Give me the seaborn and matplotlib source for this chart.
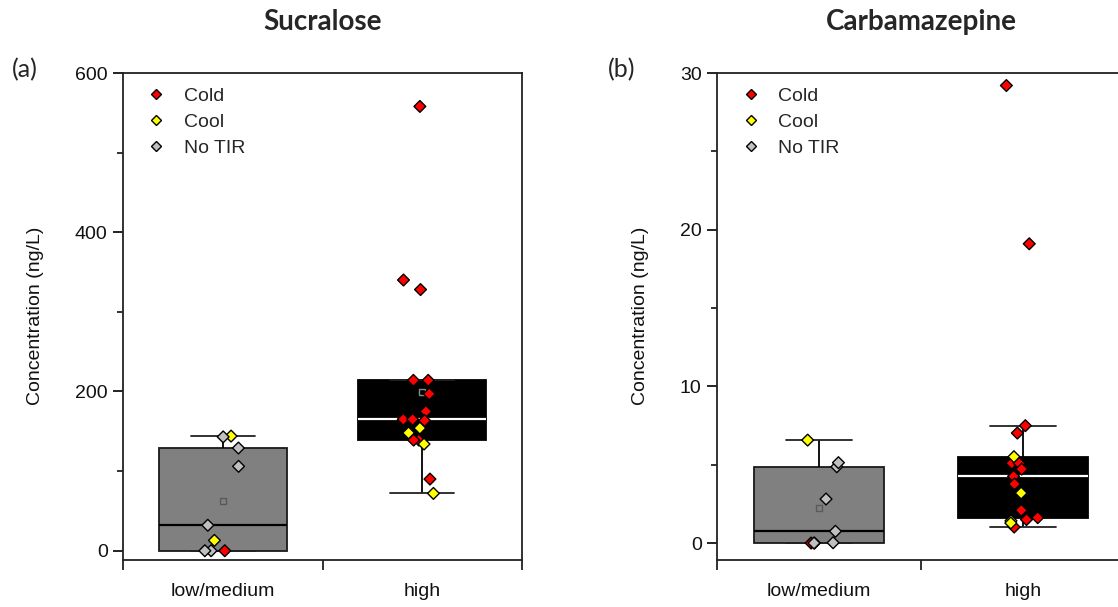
import numpy as np
import pandas as pd
import matplotlib
matplotlib.use("Agg")
import matplotlib.pyplot as plt
from matplotlib.lines import Line2D
from matplotlib.ticker import FixedLocator, MultipleLocator
import seaborn as sns

# ---------------- data ----------------
categories = ["low/medium", "high"]
types = ["Cold", "Cool", "No TIR"]
type_colors = ["#ff0000", "#ffff00", "#c0c0c0"]

suc_low_cold = [0]
suc_low_cool = [144, 13]
suc_low_notir = [143, 129, 106, 32, 0, 0]
suc_high_cold = [558, 340, 328, 214, 214, 197, 175, 165, 163.5, 165, 139, 139, 90]
suc_high_cool = [154, 148, 134, 72]
suc_high_notir = []

carb_low_cold = [0.0]
carb_low_cool = [6.57, 0.0]
carb_low_notir = [4.87, 5.13, 2.81, 0.75, 0.02, 0.0]
carb_high_cold = [29.2, 19.1, 7.49, 7.02, 5.1, 5.09, 4.72, 4.26, 3.77, 2.09, 1.62, 1.5, 1.02]
carb_high_cool = [5.51, 3.19, 1.42, 1.28]
carb_high_notir = []

titles = ["Sucralose", "Carbamazepine"]
panel_labels = ["(a)", "(b)"]
ylabel = "Concentration (ng/L)"
suc_ticks = [0, 200, 400, 600]
carb_ticks = [0, 10, 20, 30]


def build(groups):
    rows = []
    for cat, per_type in zip(categories, groups):
        for t, vals in zip(types, per_type):
            for v in vals:
                rows.append({"group": cat, "value": v, "type": t})
    return pd.DataFrame(rows)


df_suc = build([[suc_low_cold, suc_low_cool, suc_low_notir],
                [suc_high_cold, suc_high_cool, suc_high_notir]])
df_carb = build([[carb_low_cold, carb_low_cool, carb_low_notir],
                 [carb_high_cold, carb_high_cool, carb_high_notir]])

# ---------------- style ----------------
sns.set_theme(style="ticks")
plt.rcParams["font.family"] = ["Liberation Sans", "DejaVu Sans"]

W, H = 1118, 607
fig = plt.figure(figsize=(W / 100, H / 100), dpi=100)

ax_pos = [
    [123 / W, 1 - 559.5 / H, 399 / W, (559.5 - 73) / H],
    [717 / W, 1 - 559.5 / H, 408 / W, (559.5 - 73) / H],
]
ylims = [(-11, 600), (-1.05, 30)]
yticks = [suc_ticks, carb_ticks]
minor_steps = [100, 5]
label_x = [25, 622]
title_x = [323, 921]
show_mean = [[True, True], [True, False]]

np.random.seed(3)
for i, df in enumerate([df_suc, df_carb]):
    ax = fig.add_axes(ax_pos[i])
    box_styles = [
        ("low/medium", "#808080", "#1a1a1a", "black", "#5a5a5a"),
        ("high", "black", "black", "white", "#8a8a8a"),
    ]
    for j, (cat, fc, lc, mc, meanc) in enumerate(box_styles):
        sub = df[df["group"] == cat]
        sns.boxplot(data=sub, x="group", y="value", order=categories,
                    color=fc, linecolor=lc, saturation=1, width=0.64,
                    showfliers=False, showmeans=show_mean[i][j], linewidth=1.3,
                    meanprops=dict(marker="s", markerfacecolor="none",
                                   markeredgecolor=meanc, markersize=5,
                                   markeredgewidth=1),
                    medianprops=dict(color=mc, linewidth=1.6),
                    whiskerprops=dict(color="black"),
                    capprops=dict(color="#222222"),
                    ax=ax)
    sns.stripplot(data=df, x="group", y="value", order=categories,
                  hue="type", hue_order=types, palette=type_colors,
                  marker="D", size=6, edgecolor="black", linewidth=1,
                  jitter=0.1, dodge=False, legend=False, zorder=4, ax=ax)

    ax.set_xlim(-0.5, 1.5)
    ax.set_ylim(*ylims[i])
    ax.set_xlabel("")
    ax.set_ylabel(ylabel, fontsize=14, labelpad=22, color="#111111")

    for sp in ax.spines.values():
        sp.set_visible(True)
        sp.set_color("#222222")
        sp.set_linewidth(1.3)

    ax.xaxis.set_major_locator(FixedLocator([0, 1]))
    ax.set_xticklabels(categories)
    ax.xaxis.set_minor_locator(FixedLocator([-0.5, 0.5, 1.5]))
    ax.tick_params(axis="x", which="major", length=0, pad=17, labelsize=14,
                   colors="#111111")
    ax.tick_params(axis="x", which="minor", length=7, width=1.3,
                   direction="out", color="#222222")
    ax.yaxis.set_major_locator(FixedLocator(yticks[i]))
    ax.yaxis.set_minor_locator(MultipleLocator(minor_steps[i]))
    ax.tick_params(axis="y", which="major", length=7, width=1.3, pad=4,
                   labelsize=14, direction="out", colors="#111111")
    ax.tick_params(axis="y", which="minor", length=4, width=1.3,
                   direction="out", color="#222222")
    ax.tick_params(top=False, right=False, which="both")

    handles = [Line2D([], [], marker="D", ls="", markerfacecolor=c,
                      markeredgecolor="black", markersize=5.5, markeredgewidth=1)
               for c in type_colors]
    ax.legend(handles, types, loc="upper left", bbox_to_anchor=(0.025, 0.994),
              frameon=False, fontsize=14, handletextpad=0.8,
              labelspacing=0.42, borderaxespad=0.2, handlelength=1.2)

    fig.text(title_x[i] / W, 1 - 22 / H, titles[i], ha="center", va="center",
             fontsize=20, fontweight="bold", family=["Lato", "DejaVu Sans"])
    fig.text(label_x[i] / W, 1 - 70 / H, panel_labels[i], ha="center",
             va="center", fontsize=18, family=["Lato", "DejaVu Sans"])

fig.savefig("out.png", dpi=100, facecolor="white")
